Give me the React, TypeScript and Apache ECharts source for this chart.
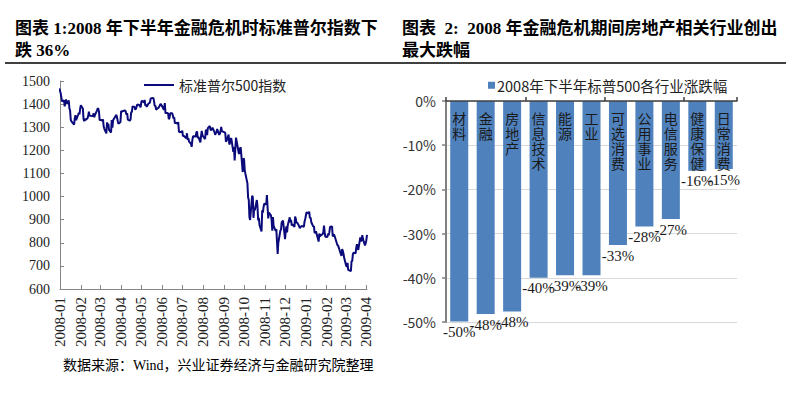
import React, { useEffect, useRef } from 'react';
import * as echarts from 'echarts';

// ---- Figure 1: S&P 500 daily close ----
const sp500Start: [string, number][] = [["2007-12-31", 1468]];
const sp500Q1_2008: [string, number][] = [
  ["2008-01-02", 1447], ["2008-01-03", 1447], ["2008-01-04", 1412], ["2008-01-07", 1416], ["2008-01-08", 1390],
  ["2008-01-09", 1409], ["2008-01-10", 1420], ["2008-01-11", 1401], ["2008-01-14", 1416], ["2008-01-15", 1381],
  ["2008-01-16", 1373], ["2008-01-17", 1333], ["2008-01-18", 1325], ["2008-01-22", 1311], ["2008-01-23", 1339],
  ["2008-01-24", 1352], ["2008-01-25", 1331], ["2008-01-28", 1354], ["2008-01-29", 1362], ["2008-01-30", 1356],
  ["2008-01-31", 1379], ["2008-02-01", 1395], ["2008-02-04", 1381], ["2008-02-05", 1337], ["2008-02-06", 1326],
  ["2008-02-07", 1337], ["2008-02-08", 1331], ["2008-02-11", 1339], ["2008-02-12", 1349], ["2008-02-13", 1367],
  ["2008-02-14", 1349], ["2008-02-15", 1350], ["2008-02-19", 1349], ["2008-02-20", 1360], ["2008-02-21", 1343],
  ["2008-02-22", 1353], ["2008-02-25", 1372], ["2008-02-26", 1381], ["2008-02-27", 1380], ["2008-02-28", 1368],
  ["2008-02-29", 1331], ["2008-03-03", 1331], ["2008-03-04", 1327], ["2008-03-05", 1334], ["2008-03-06", 1304],
  ["2008-03-07", 1293], ["2008-03-10", 1273], ["2008-03-11", 1321], ["2008-03-12", 1309], ["2008-03-13", 1315],
  ["2008-03-14", 1288], ["2008-03-17", 1277], ["2008-03-18", 1331], ["2008-03-19", 1298], ["2008-03-20", 1330],
  ["2008-03-24", 1350], ["2008-03-25", 1353], ["2008-03-26", 1341], ["2008-03-27", 1326], ["2008-03-28", 1315],
  ["2008-03-31", 1323],
];
const sp500Q2_2008: [string, number][] = [
  ["2008-04-01", 1370], ["2008-04-02", 1368], ["2008-04-03", 1369], ["2008-04-04", 1370], ["2008-04-07", 1373],
  ["2008-04-08", 1366], ["2008-04-09", 1354], ["2008-04-10", 1361], ["2008-04-11", 1333], ["2008-04-14", 1328],
  ["2008-04-15", 1334], ["2008-04-16", 1365], ["2008-04-17", 1366], ["2008-04-18", 1390], ["2008-04-21", 1388],
  ["2008-04-22", 1376], ["2008-04-23", 1380], ["2008-04-24", 1389], ["2008-04-25", 1398], ["2008-04-28", 1396],
  ["2008-04-29", 1391], ["2008-04-30", 1386], ["2008-05-01", 1409], ["2008-05-02", 1414], ["2008-05-05", 1407],
  ["2008-05-06", 1418], ["2008-05-07", 1393], ["2008-05-08", 1398], ["2008-05-09", 1388], ["2008-05-12", 1404],
  ["2008-05-13", 1403], ["2008-05-14", 1409], ["2008-05-15", 1424], ["2008-05-16", 1425], ["2008-05-19", 1427],
  ["2008-05-20", 1413], ["2008-05-21", 1391], ["2008-05-22", 1394], ["2008-05-23", 1376], ["2008-05-27", 1385],
  ["2008-05-28", 1391], ["2008-05-29", 1398], ["2008-05-30", 1400], ["2008-06-02", 1386], ["2008-06-03", 1378],
  ["2008-06-04", 1377], ["2008-06-05", 1404], ["2008-06-06", 1361], ["2008-06-09", 1362], ["2008-06-10", 1358],
  ["2008-06-11", 1335], ["2008-06-12", 1340], ["2008-06-13", 1360], ["2008-06-16", 1360], ["2008-06-17", 1351],
  ["2008-06-18", 1338], ["2008-06-19", 1343], ["2008-06-20", 1318], ["2008-06-23", 1318], ["2008-06-24", 1314],
  ["2008-06-25", 1322], ["2008-06-26", 1283], ["2008-06-27", 1278], ["2008-06-30", 1280],
];
const sp500Q3_2008: [string, number][] = [
  ["2008-07-01", 1285], ["2008-07-02", 1262], ["2008-07-03", 1263], ["2008-07-07", 1252], ["2008-07-08", 1274],
  ["2008-07-09", 1245], ["2008-07-10", 1253], ["2008-07-11", 1239], ["2008-07-14", 1228], ["2008-07-15", 1215],
  ["2008-07-16", 1245], ["2008-07-17", 1260], ["2008-07-18", 1261], ["2008-07-21", 1260], ["2008-07-22", 1277],
  ["2008-07-23", 1282], ["2008-07-24", 1253], ["2008-07-25", 1258], ["2008-07-28", 1234], ["2008-07-29", 1263],
  ["2008-07-30", 1284], ["2008-07-31", 1267], ["2008-08-01", 1260], ["2008-08-04", 1249], ["2008-08-05", 1285],
  ["2008-08-06", 1289], ["2008-08-07", 1266], ["2008-08-08", 1296], ["2008-08-11", 1305], ["2008-08-12", 1290],
  ["2008-08-13", 1286], ["2008-08-14", 1293], ["2008-08-15", 1298], ["2008-08-18", 1279], ["2008-08-19", 1267],
  ["2008-08-20", 1275], ["2008-08-21", 1278], ["2008-08-22", 1292], ["2008-08-25", 1267], ["2008-08-26", 1272],
  ["2008-08-27", 1282], ["2008-08-28", 1301], ["2008-08-29", 1283], ["2008-09-02", 1278], ["2008-09-03", 1275],
  ["2008-09-04", 1237], ["2008-09-05", 1242], ["2008-09-08", 1268], ["2008-09-09", 1225], ["2008-09-10", 1232],
  ["2008-09-11", 1249], ["2008-09-12", 1252], ["2008-09-15", 1193], ["2008-09-16", 1214], ["2008-09-17", 1156],
  ["2008-09-18", 1207], ["2008-09-19", 1255], ["2008-09-22", 1207], ["2008-09-23", 1188], ["2008-09-24", 1186],
  ["2008-09-25", 1209], ["2008-09-26", 1213], ["2008-09-29", 1106], ["2008-09-30", 1166],
];
const sp500Q4_2008: [string, number][] = [
  ["2008-10-01", 1161], ["2008-10-02", 1114], ["2008-10-03", 1099], ["2008-10-06", 1057], ["2008-10-07", 996],
  ["2008-10-08", 985], ["2008-10-09", 910], ["2008-10-10", 899], ["2008-10-13", 1003], ["2008-10-14", 998],
  ["2008-10-15", 908], ["2008-10-16", 946], ["2008-10-17", 941], ["2008-10-20", 985], ["2008-10-21", 955],
  ["2008-10-22", 897], ["2008-10-23", 908], ["2008-10-24", 877], ["2008-10-27", 849], ["2008-10-28", 941],
  ["2008-10-29", 930], ["2008-10-30", 954], ["2008-10-31", 969], ["2008-11-03", 966], ["2008-11-04", 1006],
  ["2008-11-05", 953], ["2008-11-06", 905], ["2008-11-07", 931], ["2008-11-10", 919], ["2008-11-11", 899],
  ["2008-11-12", 852], ["2008-11-13", 911], ["2008-11-14", 873], ["2008-11-17", 851], ["2008-11-18", 859],
  ["2008-11-19", 807], ["2008-11-20", 752], ["2008-11-21", 800], ["2008-11-24", 852], ["2008-11-25", 857],
  ["2008-11-26", 888], ["2008-11-28", 896], ["2008-12-01", 816], ["2008-12-02", 849], ["2008-12-03", 871],
  ["2008-12-04", 845], ["2008-12-05", 876], ["2008-12-08", 910], ["2008-12-09", 889], ["2008-12-10", 899],
  ["2008-12-11", 874], ["2008-12-12", 880], ["2008-12-15", 869], ["2008-12-16", 913], ["2008-12-17", 904],
  ["2008-12-18", 885], ["2008-12-19", 888], ["2008-12-22", 872], ["2008-12-23", 863], ["2008-12-24", 868],
  ["2008-12-26", 873], ["2008-12-29", 869], ["2008-12-30", 891], ["2008-12-31", 903],
];
const sp500Q1_2009: [string, number][] = [
  ["2009-01-02", 932], ["2009-01-05", 927], ["2009-01-06", 935], ["2009-01-07", 907], ["2009-01-08", 910],
  ["2009-01-09", 890], ["2009-01-12", 870], ["2009-01-13", 872], ["2009-01-14", 843], ["2009-01-15", 844],
  ["2009-01-16", 850], ["2009-01-20", 805], ["2009-01-21", 840], ["2009-01-22", 828], ["2009-01-23", 832],
  ["2009-01-26", 837], ["2009-01-27", 846], ["2009-01-28", 874], ["2009-01-29", 845], ["2009-01-30", 826],
  ["2009-02-02", 825], ["2009-02-03", 839], ["2009-02-04", 832], ["2009-02-05", 846], ["2009-02-06", 869],
  ["2009-02-09", 870], ["2009-02-10", 827], ["2009-02-11", 834], ["2009-02-12", 835], ["2009-02-13", 827],
  ["2009-02-17", 789], ["2009-02-18", 788], ["2009-02-19", 779], ["2009-02-20", 770], ["2009-02-23", 743],
  ["2009-02-24", 773], ["2009-02-25", 765], ["2009-02-26", 753], ["2009-02-27", 735], ["2009-03-02", 701],
  ["2009-03-03", 696], ["2009-03-04", 713], ["2009-03-05", 683], ["2009-03-06", 683], ["2009-03-09", 677],
  ["2009-03-10", 720], ["2009-03-11", 721], ["2009-03-12", 751], ["2009-03-13", 757], ["2009-03-16", 754],
  ["2009-03-17", 778], ["2009-03-18", 794], ["2009-03-19", 784], ["2009-03-20", 769], ["2009-03-23", 823],
  ["2009-03-24", 806], ["2009-03-25", 814], ["2009-03-26", 833], ["2009-03-27", 816], ["2009-03-30", 788],
  ["2009-03-31", 798], ["2009-04-01", 811], ["2009-04-02", 834],
];
const indexSeriesName = '标准普尔500指数';
const indexAxisMin = 600;
const indexAxisMax = 1500;
const indexAxisStep = 100;
const dateAxisMin = '2008-01-01';
const dateAxisMax = '2009-04-02';

// ---- Figure 2: sector changes, 2H 2008 ----
const sectorSeriesName = '2008年下半年标普500各行业涨跌幅';
const sectorNames = ['材料', '金融', '房地产', '信息技术', '能源', '工业', '可选消费', '公用事业', '电信服务', '健康保健', '日常消费'];
const sectorChange = [-49.9, -48.2, -47.6, -40.0, -39.4, -39.4, -32.6, -28.4, -26.7, -15.8, -15.4];
const pctAxisMin = -50;
const pctAxisMax = 0;
const pctAxisStep = 10;

// ---- Texts ----
const title1Line1 = '图表 1:2008 年下半年金融危机时标准普尔指数下';
const title1Line2 = '跌 36%';
const title2Line1 = '图表  2:  2008 年金融危机期间房地产相关行业创出';
const title2Line2 = '最大跌幅';
const sourceText = '数据来源：Wind，兴业证券经济与金融研究院整理';

const SERIF = "'Liberation Serif', 'Noto Sans CJK SC', serif";
const SANS = "'Noto Sans CJK SC', 'Noto Sans', sans-serif";

export default function App() {
  const ref = useRef<HTMLDivElement>(null);
  useEffect(() => {
    if (!ref.current) return;
    const chart = echarts.init(ref.current, null, { renderer: 'svg' });
    const indexData = [...sp500Start, ...sp500Q1_2008, ...sp500Q2_2008, ...sp500Q3_2008, ...sp500Q4_2008, ...sp500Q1_2009];
    const pad2 = (n: number) => (n < 10 ? '0' + n : '' + n);
    const DAY = 86400000;
    chart.setOption({
      animation: false,
      backgroundColor: '#ffffff',
      grid: [
        { left: 60, top: 81, width: 307, height: 208, containLabel: false },
        { left: 446, top: 101, width: 291, height: 221, containLabel: false },
      ],
      legend: [
        {
          data: [{ name: indexSeriesName, icon: 'rect' }],
          left: 139, top: 73,
          itemWidth: 30, itemHeight: 2,
          textStyle: { fontFamily: SANS, fontSize: 14, color: '#222' },
        },
        {
          data: [{ name: sectorSeriesName, icon: 'rect' }],
          left: 483, top: 73,
          itemWidth: 7, itemHeight: 7, itemGap: 4,
          textStyle: { fontFamily: SANS, fontSize: 14.5, color: '#222', padding: [0, 0, 0, -3] },
        },
      ],
      xAxis: [
        {
          type: 'time', gridIndex: 0,
          min: dateAxisMin, max: dateAxisMax,
          splitNumber: 15,
          minInterval: 28 * DAY, maxInterval: 31 * DAY,
          axisLine: { show: true, lineStyle: { color: '#868686', width: 1 } },
          axisTick: { show: true, inside: true, length: 4, lineStyle: { color: '#868686' } },
          splitLine: { show: false },
          axisLabel: {
            rotate: 90, margin: 8, fontFamily: SERIF, fontSize: 15, color: '#222',
            formatter: (v: number) => { const d = new Date(v); return d.getFullYear() + '-' + pad2(d.getMonth() + 1); },
          },
        },
        {
          type: 'category', gridIndex: 1, position: 'top',
          data: sectorNames,
          axisLine: { show: true, onZero: true, lineStyle: { color: '#404040', width: 1.5 } },
          axisTick: { show: true, length: 4, lineStyle: { color: '#404040', width: 1.5 } },
          axisLabel: { show: false },
          splitLine: { show: false },
          z: 5,
        },
      ],
      yAxis: [
        {
          type: 'value', gridIndex: 0,
          min: indexAxisMin, max: indexAxisMax, interval: indexAxisStep,
          axisLine: { show: true, lineStyle: { color: '#868686', width: 1 } },
          axisTick: { show: true, inside: true, length: 4, lineStyle: { color: '#868686' } },
          splitLine: { show: false },
          axisLabel: { margin: 10, fontFamily: SERIF, fontSize: 14, color: '#222', formatter: (v: number) => String(v) },
        },
        {
          type: 'value', gridIndex: 1,
          min: pctAxisMin, max: pctAxisMax, interval: pctAxisStep,
          axisLine: { show: true, lineStyle: { color: '#808080', width: 2 } },
          axisTick: { show: true, length: 4, lineStyle: { color: '#808080', width: 1.5 } },
          splitLine: { show: true, lineStyle: { color: '#d9d9d9', width: 1 } },
          axisLabel: { margin: 10, fontFamily: SANS, fontSize: 14, color: '#333', formatter: '{value}%' },
        },
      ],
      series: [
        {
          name: indexSeriesName, type: 'line', xAxisIndex: 0, yAxisIndex: 0,
          data: indexData, symbol: 'none', showSymbol: false,
          lineStyle: { color: '#0a0a7a', width: 2 }, itemStyle: { color: '#0a0a7a' },
          clip: false,
        },
        {
          name: sectorSeriesName, type: 'bar', xAxisIndex: 1, yAxisIndex: 1,
          data: sectorChange, barWidth: 18, barGap: '-100%',
          itemStyle: { color: '#4f81bd' },
          label: {
            show: true, position: 'bottom', distance: 3,
            fontFamily: SERIF, fontSize: 15, color: '#1a1a1a',
            formatter: (p: any) => Math.round(p.value) + '%',
          },
        },
        {
          name: 'names', type: 'bar', xAxisIndex: 1, yAxisIndex: 1,
          data: sectorChange, barWidth: 18, barGap: '-100%',
          itemStyle: { color: 'rgba(0,0,0,0)' },
          label: {
            show: true, position: 'insideTop', distance: 9,
            fontFamily: SANS, fontSize: 14, lineHeight: 15, color: '#1a1a1a',
            formatter: (p: any) => String(p.name).split('').join('\n'),
          },
        },
      ],
      graphic: [
        { type: 'text', x: 15, y: 28, style: { text: title1Line1, fontFamily: SERIF, fontWeight: 'bold', fontSize: 17, fill: '#000', verticalAlign: 'middle' } },
        { type: 'text', x: 15, y: 50, style: { text: title1Line2, fontFamily: SERIF, fontWeight: 'bold', fontSize: 17, fill: '#000', verticalAlign: 'middle' } },
        { type: 'text', x: 402, y: 28, style: { text: title2Line1, fontFamily: SERIF, fontWeight: 'bold', fontSize: 17, fill: '#000', verticalAlign: 'middle' } },
        { type: 'text', x: 402, y: 50, style: { text: title2Line2, fontFamily: SERIF, fontWeight: 'bold', fontSize: 17, fill: '#000', verticalAlign: 'middle' } },
        { type: 'line', shape: { x1: 5, y1: 63, x2: 786, y2: 63 }, style: { stroke: '#000', lineWidth: 1.5 } },
        { type: 'text', x: 63, y: 365, style: { text: sourceText, fontFamily: SERIF, fontSize: 14, fill: '#000', verticalAlign: 'middle' } },
      ],
    });
    return () => chart.dispose();
  }, []);
  return <div ref={ref} style={{ position: 'absolute', left: 0, top: 0, width: 807, height: 394 }} />;
}
